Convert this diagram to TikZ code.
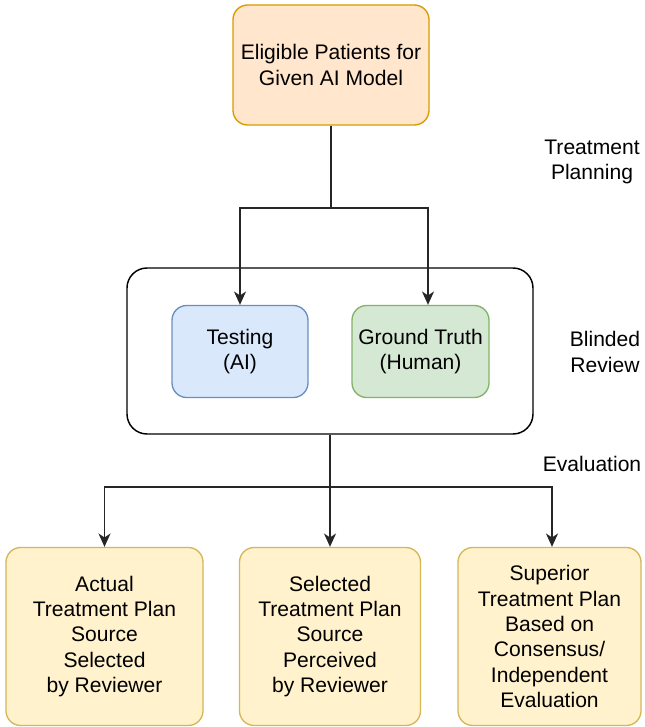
\documentclass[tikz,border=0pt]{standalone}
\usepackage{fontspec}
\setmainfont{Liberation Sans}
\usetikzlibrary{arrows.meta}

\definecolor{orfill}{HTML}{FFE6CC}\definecolor{ordraw}{HTML}{D79B00}
\definecolor{blfill}{HTML}{DAE8FC}\definecolor{bldraw}{HTML}{6C8EBF}
\definecolor{grfill}{HTML}{D5E8D4}\definecolor{grdraw}{HTML}{82B366}
\definecolor{yefill}{HTML}{FFF2CC}\definecolor{yedraw}{HTML}{D6B656}

\begin{document}
\begin{tikzpicture}[x=0.75pt,y=-0.75pt,
  txt/.style={font=\fontsize{15.8}{19}\selectfont,align=center,text=black},
  box/.style={txt,draw,rounded corners=11pt,line width=1pt,inner sep=0pt},
  wire/.style={line width=1.1pt,black!85},
  arr/.style={wire,-{Stealth[length=10pt,width=9pt,inset=3pt]}}]
\useasboundingbox (0,0) rectangle (644,727);

% top source box
\node[box,fill=orfill,draw=ordraw,minimum width=196*0.75pt,minimum height=120*0.75pt]
  (src) at (331,65) {Eligible Patients for\\Given AI Model};

% blinded review group
\node[draw,line width=1.1pt,rounded corners=15pt,minimum width=406*0.75pt,minimum height=166*0.75pt]
  (grp) at (330,351) {};
\node[box,fill=blfill,draw=bldraw,minimum width=136*0.75pt,minimum height=92*0.75pt]
  (ai) at (240,351.5) {Testing\\(AI)};
\node[box,fill=grfill,draw=grdraw,minimum width=137*0.75pt,minimum height=92*0.75pt]
  (gt) at (420.5,351.5) {Ground Truth\\(Human)};

% evaluation outcomes
\node[box,fill=yefill,draw=yedraw,minimum width=197*0.75pt,minimum height=178*0.75pt]
  (o1) at (104.5,636.5) {Actual\\Treatment Plan\\Source\\Selected\\by Reviewer};
\node[box,fill=yefill,draw=yedraw,minimum width=181*0.75pt,minimum height=178*0.75pt]
  (o2) at (330,636.5) {Selected\\Treatment Plan\\Source\\Perceived\\by Reviewer};
\node[box,fill=yefill,draw=yedraw,minimum width=183*0.75pt,minimum height=178*0.75pt]
  (o3) at (549.5,636.5) {Superior\\Treatment Plan\\Based on\\Consensus/\\Independent\\Evaluation};

% stage labels
\node[txt] (l1) at (592,162) {Treatment\\Planning};
\node[txt] (l2) at (605,352) {Blinded\\Review};
\node[txt] (l3) at (592,464) {Evaluation};

% connectors
\coordinate (s1) at (331,208);
\coordinate (gtin) at (428,208);
\draw[wire] (src.south) -- (s1);
\draw[arr] (s1) -| (ai.north);
\draw[arr] (s1) -- (gtin) -- (gtin |- gt.north);

\coordinate (s2) at (330,487);
\coordinate (o3in) at (552,487);
\draw[wire] (grp.south) -- (s2);
\draw[arr] (s2) -| (o1.north);
\draw[arr] (s2) -- (o2.north);
\draw[arr] (s2) -- (o3in) -- (o3in |- o3.north);
\end{tikzpicture}
\end{document}
